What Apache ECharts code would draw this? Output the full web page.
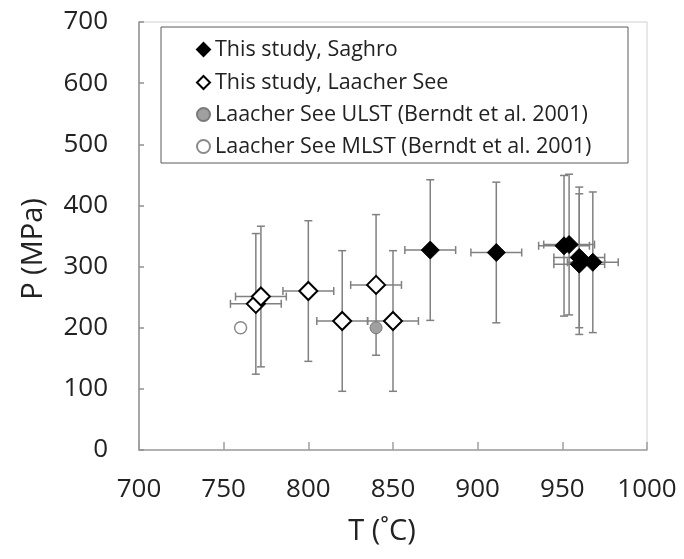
<!DOCTYPE html>
<html>
<head>
<meta charset="utf-8">
<script src="https://cdn.jsdelivr.net/npm/echarts@6/dist/echarts.min.js"></script>
<style>html,body{margin:0;padding:0;background:#fff}#c{width:684px;height:559px}</style>
</head>
<body>
<div id="c"></div>
<script>
// ---- data ----
var xTicks = [700, 750, 800, 850, 900, 950, 1000];
var yTicks = [0, 100, 200, 300, 400, 500, 600, 700];
var seriesNames = ['This study, Saghro', 'This study, Laacher See', 'Laacher See ULST (Berndt et al. 2001)', 'Laacher See MLST (Berndt et al. 2001)'];

var saghroT = [872, 911, 951, 954, 960, 960, 968];
var saghroP = [327, 323, 334, 336, 315, 304, 307];
var saghroTErr = [15, 15, 15, 15, 15, 15, 15];
var saghroPErr = [115, 115, 115, 115, 115, 115, 115];

var laacherT = [769, 772, 800, 820, 840, 850];
var laacherP = [239, 251, 260, 211, 270, 211];
var laacherTErr = [15, 15, 15, 15, 15, 15];
var laacherPErr = [115, 115, 115, 115, 115, 115];

var ulstT = [840];
var ulstP = [200];
var mlstT = [760];
var mlstP = [200];

// ---- build ----
function pts(xs, ys) { return xs.map(function (x, i) { return [x, ys[i]]; }); }
function errs(xs, ys, ex, ey) { return xs.map(function (x, i) { return [x, ys[i], ex[i], ey[i]]; }); }
var errData = errs(saghroT, saghroP, saghroTErr, saghroPErr).concat(errs(laacherT, laacherP, laacherTErr, laacherPErr));

var FONT = 'Open Sans';
var chart = echarts.init(document.getElementById('c'), null, { renderer: 'canvas' });

function renderErr(params, api) {
  var x = api.value(0), y = api.value(1), ex = api.value(2), ey = api.value(3);
  var l = api.coord([x - ex, y]), r = api.coord([x + ex, y]);
  var t = api.coord([x, y + ey]), b = api.coord([x, y - ey]);
  var c = 4;
  var st = { stroke: '#808080', lineWidth: 1.5, fill: null };
  function ln(x1, y1, x2, y2) { return { type: 'line', shape: { x1: x1, y1: y1, x2: x2, y2: y2 }, style: st }; }
  return {
    type: 'group',
    children: [
      ln(l[0], l[1], r[0], r[1]),
      ln(t[0], t[1], b[0], b[1]),
      ln(l[0], l[1] - c, l[0], l[1] + c),
      ln(r[0], r[1] - c, r[0], r[1] + c),
      ln(t[0] - c, t[1], t[0] + c, t[1]),
      ln(b[0] - c, b[1], b[0] + c, b[1])
    ]
  };
}

var legendRowCenters = [45, 78, 110, 142];
var legends = seriesNames.map(function (n, i) {
  return {
    orient: 'vertical', left: 196, top: legendRowCenters[i] - 6.5, padding: 0,
    itemWidth: 13, itemHeight: 13,
    data: [n],
    textStyle: { fontFamily: FONT, fontSize: 21.5, color: '#222', lineHeight: 13 }
  };
});

var option = {
  animation: false,
  backgroundColor: '#fff',
  textStyle: { fontFamily: FONT },
  grid: { left: 139, right: 37, top: 22, bottom: 109, show: true, borderColor: '#d0d0d0', borderWidth: 1 },
  xAxis: {
    type: 'value', min: xTicks[0], max: xTicks[xTicks.length - 1], interval: 50,
    name: 'T (˚C)', nameLocation: 'middle', nameGap: 67,
    nameTextStyle: { fontFamily: FONT, fontSize: 29, color: '#222', padding: [0, 22, 0, 0] },
    axisLine: { show: true, lineStyle: { color: '#a0a0a0', width: 1.5 } },
    axisTick: { show: true, inside: true, length: 8, lineStyle: { color: '#a0a0a0', width: 1.5 } },
    axisLabel: { fontFamily: FONT, fontSize: 26, color: '#222', margin: 27, formatter: function (v) { return String(v); } },
    splitLine: { show: false }
  },
  yAxis: {
    type: 'value', min: yTicks[0], max: yTicks[yTicks.length - 1], interval: 100,
    name: 'P (MPa)', nameLocation: 'middle', nameGap: 91,
    nameTextStyle: { fontFamily: FONT, fontSize: 29, color: '#222', padding: [0, 26, 0, 0] },
    axisLine: { show: true, lineStyle: { color: '#909090', width: 1.5 } },
    axisTick: { show: true, inside: true, length: 5, lineStyle: { color: '#909090', width: 1.5 } },
    axisLabel: { fontFamily: FONT, fontSize: 26, color: '#222', margin: 31, formatter: function (v) { return String(v); } },
    splitLine: { show: false }
  },
  legend: legends,
  graphic: [{
    type: 'rect', z: 3, silent: true,
    shape: { x: 161, y: 27, width: 467, height: 136 },
    style: { fill: '#fff', stroke: '#5a5a5a', lineWidth: 1 }
  }],
  series: [
    { type: 'custom', name: 'err', renderItem: renderErr, data: errData, z: 1, encode: { x: 0, y: 1 }, silent: true },
    { type: 'scatter', name: seriesNames[0], data: pts(saghroT, saghroP), symbol: 'diamond', symbolSize: 18, z: 3,
      itemStyle: { color: '#000', borderColor: '#000', borderWidth: 1, opacity: 1 } },
    { type: 'scatter', name: seriesNames[1], data: pts(laacherT, laacherP), symbol: 'diamond', symbolSize: 18, z: 3,
      itemStyle: { color: '#fff', borderColor: '#000', borderWidth: 2, opacity: 1 } },
    { type: 'scatter', name: seriesNames[2], data: pts(ulstT, ulstP), symbol: 'circle', symbolSize: 12, z: 4,
      itemStyle: { color: '#a0a0a0', borderColor: '#7a7a7a', borderWidth: 1, opacity: 1 } },
    { type: 'scatter', name: seriesNames[3], data: pts(mlstT, mlstP), symbol: 'circle', symbolSize: 12, z: 4,
      itemStyle: { color: '#fff', borderColor: '#8a8a8a', borderWidth: 1.5, opacity: 1 } }
  ]
};
chart.setOption(option);
</script>
</body>
</html>
